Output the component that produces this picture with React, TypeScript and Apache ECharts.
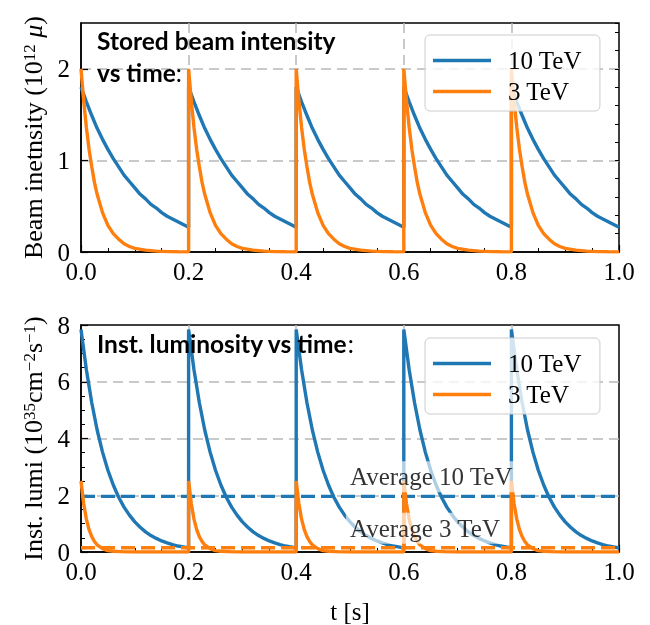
import React, { useEffect, useRef } from 'react';
import * as echarts from 'echarts';

// ---- data ----
const cycleStarts = [0, 0.2, 0.4, 0.6, 0.8];
const xTickValues = [0, 0.2, 0.4, 0.6, 0.8, 1.0];

// time within one 0.2 s cycle, 10 TeV
const t10 = [0, 0.01, 0.02, 0.03, 0.04, 0.05, 0.06, 0.07, 0.08, 0.09, 0.1, 0.11, 0.12, 0.13, 0.14, 0.15, 0.16, 0.17, 0.18, 0.19, 0.2];
const intensity10 = [1.8, 1.64, 1.49, 1.35, 1.23, 1.12, 1.02, 0.93, 0.84, 0.77, 0.7, 0.63, 0.58, 0.52, 0.48, 0.43, 0.39, 0.36, 0.33, 0.3, 0.27];
const lumi10 = [7.84, 6.42, 5.26, 4.3, 3.52, 2.88, 2.36, 1.93, 1.58, 1.3, 1.06, 0.87, 0.71, 0.58, 0.48, 0.39, 0.32, 0.26, 0.21, 0.18, 0.14];

// time within one cycle, 3 TeV
const t3 = [0, 0.005, 0.01, 0.015, 0.02, 0.025, 0.03, 0.04, 0.05, 0.06, 0.07, 0.08, 0.09, 0.1, 0.12, 0.14, 0.16, 0.18, 0.2];
const intensity3 = [2.0, 1.65, 1.36, 1.12, 0.93, 0.76, 0.63, 0.43, 0.29, 0.2, 0.14, 0.09, 0.06, 0.04, 0.02, 0.009, 0.004, 0.002, 0.001];
const tLumi3 = [0, 0.005, 0.01, 0.015, 0.02, 0.025, 0.03, 0.04, 0.05, 0.06, 0.08, 0.1, 0.15, 0.2];
const lumi3 = [2.5, 1.7, 1.16, 0.79, 0.54, 0.37, 0.25, 0.12, 0.05, 0.025, 0.006, 0.001, 0, 0];

const avgLumi10 = 1.96;
const avgLumi3 = 0.15;
const avgLabelX = 0.5;

const legendNames = ['10 TeV', '3 TeV'];

const C10 = '#1f77b4';
const C3 = '#ff7f0e';
const SERIF = 'Liberation Serif';
const LW = 3.4;

function buildCycles(offsets: number[], values: number[]) {
  const pts: number[][] = [];
  cycleStarts.forEach((s) => {
    offsets.forEach((o, i) => pts.push([+(s + o).toFixed(4), values[i]]));
  });
  return pts;
}

export default function App() {
  const ref = useRef<HTMLDivElement>(null);

  useEffect(() => {
    if (!ref.current) return;
    const chart = echarts.init(ref.current, undefined, { renderer: 'svg' });

    const gridCommon = {
      left: 81,
      width: 538,
      height: 229,
      show: true,
      borderColor: '#000',
      borderWidth: 1.5,
      backgroundColor: 'transparent',
    };

    const splitLine = {
      show: true,
      showMinLine: false,
      showMaxLine: false,
      lineStyle: { type: [10, 6], color: '#b8b8b8', width: 1.5 },
    };

    const tickLabel = { fontFamily: SERIF, fontSize: 25, color: '#000' };

    const xAxisCommon = (gridIndex: number) => ({
      gridIndex,
      type: 'value',
      min: 0,
      max: 1,
      interval: 0.2,
      axisLine: { show: true, lineStyle: { color: '#000', width: 1.5 } },
      axisTick: { show: true, inside: true, length: 7, lineStyle: { color: '#000', width: 1.2 } },
      minorTick: { show: true, splitNumber: 4, length: 4, lineStyle: { color: '#000', width: 1 } },
      axisLabel: {
        ...tickLabel,
        margin: 7,
        formatter: (v: number) => {
          const hit = xTickValues.find((t) => Math.abs(t - v) < 1e-6);
          return hit === undefined ? '' : hit.toFixed(1);
        },
      },
      splitLine,
    });

    const nameStyle = {
      fontFamily: SERIF,
      fontSize: 26,
      color: '#000',
      rich: {
        sup: { fontFamily: SERIF, fontSize: 17, color: '#000', verticalAlign: 'top' },
        mu: { fontFamily: SERIF, fontSize: 26, color: '#000', fontStyle: 'italic' },
      },
    };

    const lineSeries = (name: string, xi: number, yi: number, data: number[][], color: string, dashed = false) => ({
      name,
      type: 'line',
      xAxisIndex: xi,
      yAxisIndex: yi,
      data,
      symbol: 'none',
      silent: true,
      lineStyle: { width: LW, color, type: dashed ? [14, 6] : 'solid' },
      itemStyle: { color },
      emphasis: { disabled: true },
    });

    const legendCommon = {
      data: legendNames,
      orient: 'vertical',
      left: 425,
      icon: 'rect',
      itemWidth: 58,
      itemHeight: 3.4,
      itemGap: 6,
      padding: [13, 18, 7, 8],
      backgroundColor: 'rgba(255,255,255,0.8)',
      borderColor: '#cccccc',
      borderWidth: 1,
      borderRadius: 5,
      selectedMode: false,
      textStyle: { fontFamily: SERIF, fontSize: 25, color: '#000', padding: [0, 0, 0, 12], lineHeight: 25 },
    };

    const titleStyle = (text: string) => ({
      text,
      rich: {
        b: { fontFamily: 'Lato', fontWeight: 'bold', fontSize: 24.5, lineHeight: 32, fill: '#000', color: '#000' },
        c: { fontFamily: 'Lato', fontWeight: 'normal', fontSize: 24.5, lineHeight: 32, fill: '#000', color: '#000' },
      },
      verticalAlign: 'top',
    });

    chart.setOption({
      animation: false,
      grid: [
        { ...gridCommon, top: 23 },
        { ...gridCommon, top: 325 },
      ],
      xAxis: [
        xAxisCommon(0),
        {
          ...xAxisCommon(1),
          name: 't [s]',
          nameLocation: 'middle',
          nameGap: 47,
          nameTextStyle: { fontFamily: SERIF, fontSize: 25, color: '#000' },
        },
      ],
      yAxis: [
        {
          gridIndex: 0,
          type: 'value',
          min: 0,
          max: 2.5,
          interval: 1,
          axisLine: { show: true, lineStyle: { color: '#000', width: 1.5 } },
          axisTick: { show: true, inside: true, length: 7, lineStyle: { color: '#000', width: 1.2 } },
          axisLabel: { ...tickLabel, margin: 11, showMaxLabel: false },
          splitLine,
          name: 'Beam inetnsity (10{sup|12} {mu|μ})',
          nameLocation: 'middle',
          nameRotate: 90,
          nameGap: 30,
          nameTextStyle: nameStyle,
        },
        {
          gridIndex: 0,
          type: 'value',
          min: 0,
          max: 2.5,
          interval: 0.2,
          axisLine: { show: false },
          axisTick: { show: true, inside: true, length: 4, lineStyle: { color: '#000', width: 1 } },
          axisLabel: { show: false },
          splitLine: { show: false },
        },
        {
          gridIndex: 1,
          type: 'value',
          min: 0,
          max: 8,
          interval: 2,
          axisLine: { show: true, lineStyle: { color: '#000', width: 1.5 } },
          axisTick: { show: true, inside: true, length: 7, lineStyle: { color: '#000', width: 1.2 } },
          minorTick: { show: true, splitNumber: 4, length: 4, lineStyle: { color: '#000', width: 1 } },
          axisLabel: { ...tickLabel, margin: 11 },
          splitLine,
          name: 'Inst. lumi (10{sup|35}cm{sup|−2}s{sup|−1})',
          nameLocation: 'middle',
          nameRotate: 90,
          nameGap: 30,
          nameTextStyle: nameStyle,
        },
      ],
      legend: [
        { ...legendCommon, top: 35 },
        { ...legendCommon, top: 338 },
      ],
      graphic: [
        { type: 'text', left: 97, top: 28, z: 100, silent: true, style: titleStyle('{b|Stored beam intensity}\n{b|vs time}{c|:}') },
        { type: 'text', left: 97, top: 331, z: 100, silent: true, style: titleStyle('{b|Inst. luminosity vs time}{c|:}') },
      ],
      series: [
        lineSeries('10 TeV', 0, 0, buildCycles(t10, intensity10), C10),
        lineSeries('3 TeV', 0, 0, buildCycles(t3, intensity3), C3),
        lineSeries('10 TeV', 1, 2, buildCycles(t10, lumi10), C10),
        lineSeries('Average 10 TeV', 1, 2, [[0, avgLumi10], [1, avgLumi10]], C10, true),
        lineSeries('3 TeV', 1, 2, buildCycles(tLumi3, lumi3), C3),
        lineSeries('Average 3 TeV', 1, 2, [[0, avgLumi3], [1, avgLumi3]], C3, true),
        {
          name: 'annotations',
          type: 'scatter',
          xAxisIndex: 1,
          yAxisIndex: 2,
          silent: true,
          symbolSize: 0.1,
          itemStyle: { color: 'rgba(0,0,0,0)' },
          z: 5,
          label: {
            show: true,
            position: [-4, -35],
            fontFamily: SERIF,
            fontSize: 25,
            color: '#000',
            backgroundColor: 'rgba(255,255,255,0.8)',
            padding: [3, 4, 3, 4],
          },
          data: [
            { value: [avgLabelX, avgLumi10], label: { formatter: 'Average 10 TeV' } },
            { value: [avgLabelX, avgLumi3], label: { formatter: 'Average 3 TeV' } },
          ],
        },
      ],
    });

    return () => chart.dispose();
  }, []);

  return <div ref={ref} style={{ position: 'fixed', left: 0, top: 0, width: 650, height: 625 }} />;
}
